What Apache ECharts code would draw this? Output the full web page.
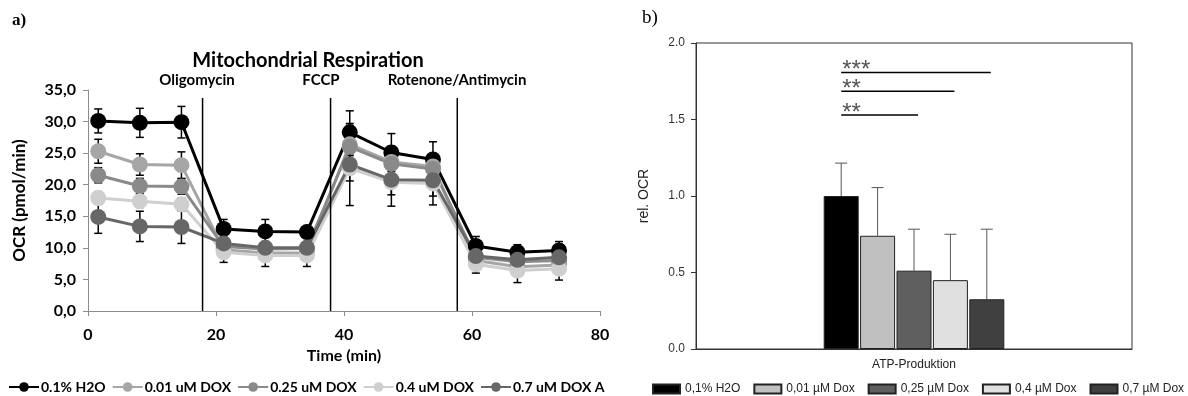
<!DOCTYPE html>
<html>
<head>
<meta charset="utf-8">
<script src="https://cdn.jsdelivr.net/npm/echarts@6/dist/echarts.min.js"></script>
<style>
html, body { margin: 0; padding: 0; background: #fff; }
#chart { width: 1188px; height: 396px; }
</style>
</head>
<body>
<div id="chart"></div>
<script>
// a) Seahorse run: OCR per time point
const timeMin = [1.6, 8.1, 14.6, 21.2, 27.7, 34.2, 40.9, 47.4, 53.9, 60.6, 67.1, 73.6]
const lineNames = ["0.1% H2O", "0.01 uM DOX", "0.25 uM DOX", "0.4 uM DOX", "0.7 uM DOX A"]
const ocrH2o = [30.1, 29.8, 29.9, 13.0, 12.6, 12.5, 28.3, 25.1, 24.0, 10.3, 9.3, 9.6]
const ocrDox001 = [25.3, 23.2, 23.1, 9.7, 9.2, 9.2, 26.4, 23.6, 22.9, 8.0, 7.0, 7.3]
const ocrDox025 = [21.5, 19.8, 19.7, 10.2, 9.8, 9.9, 26.0, 23.3, 22.5, 8.5, 7.8, 8.0]
const ocrDox04 = [17.9, 17.4, 16.9, 9.3, 8.8, 8.8, 22.6, 20.4, 20.2, 7.4, 6.4, 6.7]
const ocrDox07 = [14.9, 13.4, 13.3, 10.7, 10.0, 10.0, 23.2, 20.8, 20.7, 8.7, 8.1, 8.5]
const sdH2o = [1.9, 2.3, 2.5, 1.5, 1.9, 0.6, 3.4, 3.0, 2.8, 1.5, 1.2, 1.4]
const sdDox001 = [1.9, 1.7, 2.1, 1.2, 1.2, 1.2, 3.0, 2.5, 2.0, 1.2, 1.2, 1.2]
const sdDox025 = [1.2, 1.2, 1.2, 1.0, 1.0, 1.0, 2.0, 2.0, 2.0, 1.0, 1.0, 1.0]
const sdDox04 = [1.0, 1.0, 1.0, 1.6, 1.75, 1.75, 2.0, 2.0, 2.0, 1.4, 1.9, 1.8]
const sdDox07 = [2.6, 2.4, 2.6, 1.0, 1.0, 1.0, 6.5, 4.2, 3.9, 1.0, 1.0, 1.0]
const eventTimes = [17.9, 37.9, 57.7]
const eventNames = ["Oligomycin", "FCCP", "Rotenone/Antimycin"]

// b) ATP production relative to control
const barCategories = ["ATP-Produktion"]
const barNames = ["0,1% H2O", "0,01 µM Dox", "0,25 µM Dox", "0,4 µM Dox", "0,7 µM Dox"]
const relOcr = [1.0, 0.74, 0.512, 0.45, 0.325]
const relOcrSd = [0.215, 0.315, 0.271, 0.30, 0.458]
const sigFrom = [0, 0, 0]
const sigTo = [2, 3, 4]
const sigLevel = [1.53, 1.685, 1.807]
const sigText = ["**", "**", "***"]

const lineValues = [ocrH2o, ocrDox001, ocrDox025, ocrDox04, ocrDox07]
const lineSd = [sdH2o, sdDox001, sdDox025, sdDox04, sdDox07]
const lineColors = ["#000000", "#a6a6a6", "#8a8a8a", "#cfcfcf", "#676767"]
const barColors = ["#000000", "#c0c0c0", "#5f5f5f", "#e0e0e0", "#404040"]
const BAR_W = 35
const BAR_GAP = "4%"

const chart = echarts.init(document.getElementById("chart"))

function errorBar(params, api) {
  const lo = api.coord([api.value(0), api.value(1)])
  const hi = api.coord([api.value(0), api.value(2)])
  const st = {stroke: "#000", lineWidth: 1.5}
  return {
    type: "group",
    children: [
      {type: "line", shape: {x1: lo[0], y1: lo[1], x2: hi[0], y2: hi[1]}, style: st},
      {type: "line", shape: {x1: lo[0] - 4, y1: lo[1], x2: lo[0] + 4, y2: lo[1]}, style: st},
      {type: "line", shape: {x1: hi[0] - 4, y1: hi[1], x2: hi[0] + 4, y2: hi[1]}, style: st},
    ],
  }
}

function eventLine(params, api) {
  const p = api.coord([api.value(0), 0])
  return {
    type: "line",
    shape: {x1: p[0], y1: p[1], x2: p[0], y2: params.coordSys.y + 8},
    style: {stroke: "#000", lineWidth: 1.5},
  }
}

function barCenter(api, idx) {
  const layout = api.barLayout({count: relOcr.length, barWidth: BAR_W, barGap: BAR_GAP})
  return api.coord([api.value(0), 0])[0] + layout[idx].offsetCenter
}

function barError(params, api) {
  const x = barCenter(api, api.value(3))
  const y0 = api.coord([api.value(0), api.value(1)])[1]
  const y1 = api.coord([api.value(0), api.value(2)])[1]
  const st = {stroke: "#555", lineWidth: 1}
  return {
    type: "group",
    children: [
      {type: "line", shape: {x1: x, y1: y0, x2: x, y2: y1}, style: st},
      {type: "line", shape: {x1: x - 6, y1: y1, x2: x + 6, y2: y1}, style: st},
    ],
  }
}

function sigBracket(params, api) {
  const x1 = barCenter(api, api.value(2))
  const x2 = barCenter(api, api.value(3))
  const y = api.coord([api.value(0), api.value(1)])[1]
  return {
    type: "group",
    children: [
      {type: "line", shape: {x1: x1, y1: y, x2: x2 + 4, y2: y}, style: {stroke: "#000", lineWidth: 1.5}},
      {type: "text", style: {text: sigText[params.dataIndex], x: x1 + 1, y: y - 2, textAlign: "left",
        textVerticalAlign: "middle", font: "24px 'Liberation Sans'", fill: "#555"}},
    ],
  }
}

const series = []
lineValues.forEach((vals, i) => {
  series.push({
    type: "custom", xAxisIndex: 0, yAxisIndex: 0, z: 1, silent: true,
    renderItem: errorBar, encode: {x: 0, y: [1, 2]},
    data: vals.map((v, j) => [timeMin[j], v - lineSd[i][j], v + lineSd[i][j]]),
  })
})
lineValues.forEach((vals, i) => {
  series.push({
    name: lineNames[i], type: "line", xAxisIndex: 0, yAxisIndex: 0, z: 3,
    data: vals.map((v, j) => [timeMin[j], v]),
    symbol: "circle", symbolSize: 16,
    lineStyle: {width: 3, color: lineColors[i]},
    itemStyle: {color: lineColors[i]},
  })
})
series.push({
  type: "custom", xAxisIndex: 0, yAxisIndex: 0, z: 4, silent: true,
  renderItem: eventLine, encode: {x: 0, y: 1},
  data: eventTimes.map(t => [t, 0]),
})
relOcr.forEach((v, i) => {
  series.push({
    name: barNames[i], type: "bar", xAxisIndex: 1, yAxisIndex: 1,
    data: [v], barWidth: BAR_W, barGap: BAR_GAP,
    itemStyle: {color: barColors[i], borderColor: "#222", borderWidth: 1},
  })
})
series.push({
  type: "custom", xAxisIndex: 1, yAxisIndex: 1, z: 4, silent: true,
  renderItem: barError, encode: {x: 0, y: [1, 2]},
  data: relOcr.map((v, i) => [0, v, v + relOcrSd[i], i]),
})
series.push({
  type: "custom", xAxisIndex: 1, yAxisIndex: 1, z: 4, silent: true,
  renderItem: sigBracket, encode: {x: 0, y: 1},
  data: sigLevel.map((lv, i) => [0, lv, sigFrom[i], sigTo[i]]),
})

const boldFont = {fontFamily: "Lato", fontWeight: "bold", color: "#000"}

chart.setOption({
  animation: false,
  graphic: [
    {type: "text", left: 12, top: 12, style: {text: "a)", font: "bold 17px 'Liberation Serif'", fill: "#000"}},
    {type: "text", left: 642, top: 9, style: {text: "b)", font: "19px 'Liberation Serif'", fill: "#000"}},
    {type: "text", x: 308, y: 61, style: {text: "Mitochondrial Respiration", font: "bold 20px Lato",
      fill: "#000", textAlign: "center", textVerticalAlign: "middle"}},
    {type: "text", x: 197, y: 80, style: {text: eventNames[0], font: "bold 15px Lato",
      fill: "#000", textAlign: "center", textVerticalAlign: "middle"}},
    {type: "text", x: 321, y: 80, style: {text: eventNames[1], font: "bold 15px Lato",
      fill: "#000", textAlign: "center", textVerticalAlign: "middle"}},
    {type: "text", x: 457, y: 80, style: {text: eventNames[2], font: "bold 15px Lato",
      fill: "#000", textAlign: "center", textVerticalAlign: "middle"}},
  ],
  legend: [
    {
      data: lineNames, left: 8, top: 380, padding: 0,
      itemWidth: 30, itemHeight: 12, itemGap: 6,
      textStyle: {...boldFont, fontSize: 14, padding: [0, 0, 0, -3]},
    },
    {
      data: barNames, left: 652, top: 383, padding: 0, icon: "rect",
      itemWidth: 27, itemHeight: 9, itemGap: 13,
      textStyle: {fontFamily: "Liberation Sans", fontSize: 12, color: "#222"},
    },
  ],
  grid: [
    {left: 88, top: 90, width: 512, height: 221},
    {left: 696, top: 43, width: 436, height: 306, show: true, borderColor: "#333", borderWidth: 1},
  ],
  xAxis: [
    {
      gridIndex: 0, type: "value", min: 0, max: 80, interval: 20,
      name: "Time (min)", nameLocation: "middle", nameGap: 29,
      nameTextStyle: {...boldFont, fontSize: 16},
      axisLine: {lineStyle: {color: "#8c8c8c", width: 1}},
      axisTick: {show: true, length: 5, lineStyle: {color: "#8c8c8c"}},
      axisLabel: {...boldFont, fontSize: 16, margin: 16},
      splitLine: {show: false},
    },
    {
      gridIndex: 1, type: "category", data: barCategories,
      axisLine: {lineStyle: {color: "#333"}},
      axisTick: {alignWithLabel: true, length: 5, lineStyle: {color: "#333"}},
      axisLabel: {fontFamily: "Liberation Sans", fontSize: 12, color: "#222", margin: 10},
    },
  ],
  yAxis: [
    {
      gridIndex: 0, type: "value", min: 0, max: 35, interval: 5,
      name: "OCR (pmol/min)", nameLocation: "middle", nameGap: 60,
      nameTextStyle: {...boldFont, fontSize: 17},
      axisLine: {show: true, lineStyle: {color: "#8c8c8c", width: 1}},
      axisTick: {show: true, length: 5, lineStyle: {color: "#8c8c8c"}},
      axisLabel: {...boldFont, fontSize: 16, margin: 12,
        formatter: v => v.toFixed(1).replace(".", ",")},
      splitLine: {show: false},
    },
    {
      gridIndex: 1, type: "value", min: 0, max: 2, interval: 0.5,
      name: "rel. OCR", nameLocation: "middle", nameGap: 45,
      nameTextStyle: {fontFamily: "Liberation Sans", fontSize: 14, color: "#222"},
      axisLine: {show: true, lineStyle: {color: "#333"}},
      axisTick: {show: true, length: 5, lineStyle: {color: "#333"}},
      axisLabel: {fontFamily: "Liberation Sans", fontSize: 12, color: "#333", margin: 11,
        formatter: v => v.toFixed(1)},
      splitLine: {show: false},
    },
  ],
  series: series,
})
</script>
</body>
</html>
